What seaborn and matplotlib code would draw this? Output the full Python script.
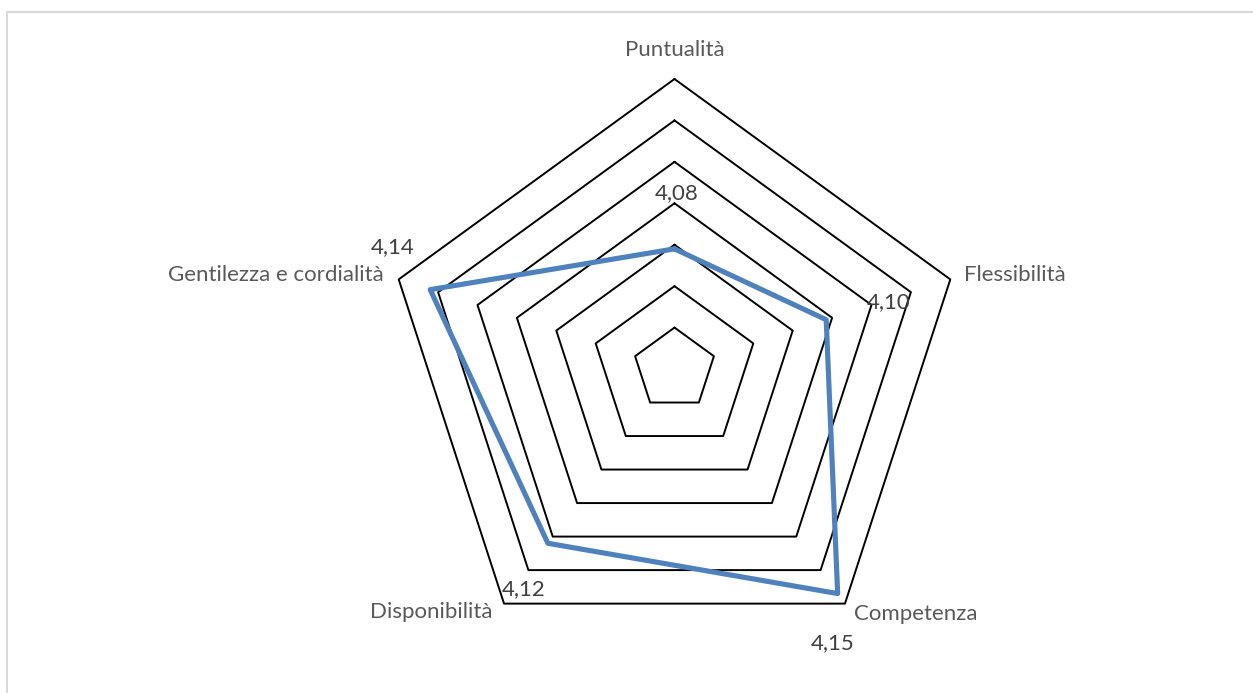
import numpy as np
import pandas as pd
import matplotlib.pyplot as plt
from matplotlib.lines import Line2D
import seaborn as sns

# dati del grafico radar
categorie = ['Puntualità', 'Flessibilità', 'Competenza', 'Disponibilità', 'Gentilezza e cordialità']
valori = [4.078, 4.097, 4.154, 4.124, 4.144]
anelli = [4.04, 4.06, 4.08, 4.10, 4.12, 4.14, 4.16]
r_min = 4.02

sns.set_theme(style='white')
plt.rcParams['font.family'] = ['Lato', 'DejaVu Sans']

W, H = 1253, 693
fig = plt.figure(figsize=(W / 100, H / 100), dpi=100)
fig.patch.set_facecolor('white')

# centro (674.5, 369) px, raggio 290 px
cx, cy, R = 674.5, 369, 290
ax = fig.add_axes([(cx - R) / W, (H - cy - R) / H, 2 * R / W, 2 * R / H], projection='polar')
ax.set_theta_zero_location('N')
ax.set_theta_direction(-1)
ax.set_facecolor('none')

n = len(categorie)
theta = np.linspace(0, 2 * np.pi, n, endpoint=False)
theta_c = np.append(theta, theta[0])

# anelli pentagonali
for r in anelli:
    ax.plot(theta_c, [r] * (n + 1), color='black', lw=1.4, clip_on=False, zorder=1)

df = pd.DataFrame({'theta': theta_c, 'valore': valori + [valori[0]]})
sns.lineplot(data=df, x='theta', y='valore', sort=False, estimator=None,
             color='#4F81BD', lw=3.7, ax=ax, zorder=3, clip_on=False)

ax.set_ylim(r_min, anelli[-1])
ax.grid(False)
ax.spines['polar'].set_visible(False)
ax.set_xticks([])
ax.set_yticks([])
ax.set_xlabel('')
ax.set_ylabel('')

# etichette categorie (posizioni in pixel)
cat_pos = [(675, 50, 'center'), (964, 275, 'left'), (854, 614, 'left'),
           (493, 612, 'right'), (384, 275, 'right')]
for nome, (x, y, ha) in zip(categorie, cat_pos):
    fig.text(x / W, 1 - y / H, nome, ha=ha, va='center', fontsize=16, color='#595959')

# etichette valori
val_pos = [(677, 193), (889, 302), (833, 643), (524, 589), (393, 247)]
for v, (x, y) in zip(valori, val_pos):
    fig.text(x / W, 1 - y / H, f'{v:.2f}'.replace('.', ','), ha='center', va='center',
             fontsize=16, color='#404040')

# bordo dell'area del grafico
fig.add_artist(Line2D([7 / W, 1], [1 - 12 / H, 1 - 12 / H], color='#D9D9D9', lw=1.5))
fig.add_artist(Line2D([7 / W, 7 / W], [0, 1 - 12 / H], color='#D9D9D9', lw=1.5))

fig.savefig('out.png', dpi=100)
